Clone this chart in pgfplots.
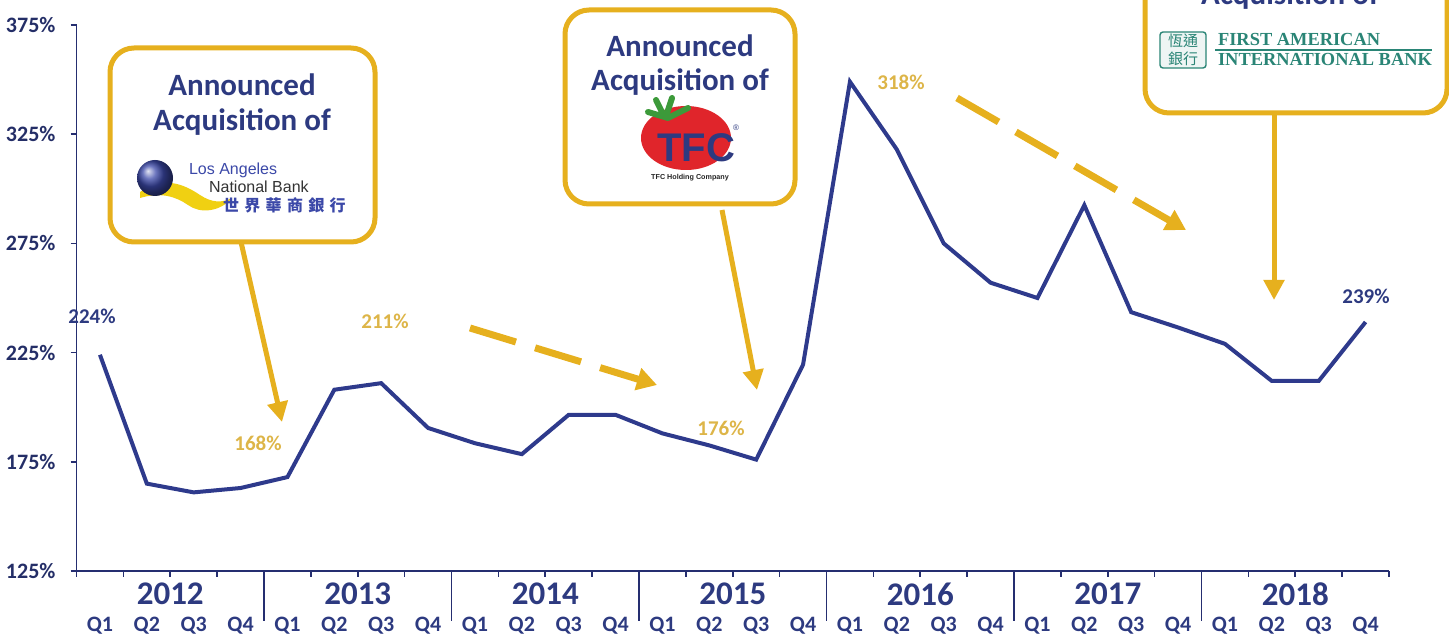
\documentclass[border=0pt]{standalone}
\usepackage{pgfplots}
\pgfplotsset{compat=1.18}
\usepackage{fontspec}
\setmainfont{Carlito}
\newfontfamily\cjk{Noto Sans CJK TC}
\newfontfamily\serifb{Liberation Serif}
\newfontfamily\arialf{Liberation Sans}
\usetikzlibrary{arrows.meta}
\definecolor{navyline}{HTML}{2E3A8C}
\definecolor{navytext}{HTML}{2D3A80}
\definecolor{gold}{HTML}{E6B01E}
\definecolor{goldtext}{HTML}{DDB548}
\definecolor{tomato}{HTML}{E0252B}
\definecolor{leaf}{HTML}{3C9A3A}
\definecolor{teal}{HTML}{2A8576}
\definecolor{lanblue}{HTML}{3B48A8}

\pgfplotstableread{
x ratio
0 224
1 165
2 161
3 163
4 168
5 208
6 211
7 190.5
8 183.5
9 178.5
10 196.5
11 196.5
12 188
13 182.5
14 176
15 219.5
16 349
17 318
18 275
19 257
20 250
21 292.5
22 243.5
23 236.5
24 229
25 212
26 212
27 239
}\ratiodata

\begin{document}
\begin{tikzpicture}
\useasboundingbox (0,0) rectangle (724.5pt,318pt);
\clip (0,0) rectangle (724.5pt,318pt);

\begin{axis}[
    at={(38.25pt,32.5pt)}, anchor=south west,
    scale only axis,
    width=656.25pt, height=273pt,
    xmin=-0.5, xmax=27.5,
    ymin=125, ymax=375,
    axis x line*=bottom, axis y line*=left,
    axis line style={navyline!80!black, line width=0.8pt, -},
    ytick={125,175,225,275,325,375},
    yticklabels={125\%,175\%,225\%,275\%,325\%,375\%},
    xtick={0,...,27},
    xticklabels={Q1,Q2,Q3,Q4,Q1,Q2,Q3,Q4,Q1,Q2,Q3,Q4,Q1,Q2,Q3,Q4,Q1,Q2,Q3,Q4,Q1,Q2,Q3,Q4,Q1,Q2,Q3,Q4},
    major x tick style={draw=none},
    minor xtick={-0.5,0.5,...,27.5},
    minor tick length=3pt,
    minor x tick style={navyline!80!black, line width=0.8pt},
    tick align=outside,
    major tick length=3pt,
    y tick style={navyline!80!black, line width=0.8pt},
    xticklabel style={font=\fontsize{11}{12}\selectfont\bfseries, text=navytext, anchor=center, inner sep=0pt, yshift=-24.5pt},
    yticklabel style={font=\fontsize{11}{12}\selectfont\bfseries, text=navytext!80!black, xshift=-4pt},
    clip=false,
]
\addplot[navyline, line width=2pt] table[x=x, y=ratio] {\ratiodata};

\pgfplotsinvokeforeach{3.5,7.5,11.5,15.5,19.5,23.5}{
  \draw[navyline!80!black, line width=0.8pt] (axis cs:#1,125) -- ++(0pt,-25pt);
}
\node[font=\fontsize{16.5}{17}\selectfont\bfseries, text=navytext] at ([yshift=-11.5pt]axis cs:1.5,125) {2012};
\node[font=\fontsize{16.5}{17}\selectfont\bfseries, text=navytext] at ([yshift=-11.5pt]axis cs:5.5,125) {2013};
\node[font=\fontsize{16.5}{17}\selectfont\bfseries, text=navytext] at ([yshift=-11.5pt]axis cs:9.5,125) {2014};
\node[font=\fontsize{16.5}{17}\selectfont\bfseries, text=navytext] at ([yshift=-11.5pt]axis cs:13.5,125) {2015};
\node[font=\fontsize{16.5}{17}\selectfont\bfseries, text=navytext] at ([yshift=-11.5pt]axis cs:17.5,125) {2016};
\node[font=\fontsize{16.5}{17}\selectfont\bfseries, text=navytext] at ([yshift=-11.5pt]axis cs:21.5,125) {2017};
\node[font=\fontsize{16.5}{17}\selectfont\bfseries, text=navytext] at ([yshift=-11.5pt]axis cs:25.5,125) {2018};
\end{axis}

% annotations, in pixel coordinates of the reference
\begin{scope}[shift={(0pt,318pt)}, x=0.5pt, y=-0.5pt]
  \tikzset{lbl/.style={font=\fontsize{10.5}{11}\selectfont\bfseries}}
  \node[lbl, text=navytext] at (92,316) {224\%};
  \node[lbl, text=goldtext] at (258,443) {168\%};
  \node[lbl, text=goldtext] at (385,321) {211\%};
  \node[lbl, text=goldtext] at (721,428) {176\%};
  \node[lbl, text=goldtext] at (901,82) {318\%};
  \node[lbl, text=navytext] at (1366,296) {239\%};

  % dashed trend arrows
  \draw[gold, line width=3.5pt, dash pattern=on 24pt off 10pt, -{Triangle[length=10pt,width=11pt]}]
     (470,328) -- (657,385);
  \draw[gold, line width=3.5pt, dash pattern=on 24pt off 10pt, -{Triangle[length=10pt,width=11pt]}]
     (957,98) -- (1186,230);

  % callout arrows
  \draw[gold, line width=2.5pt, -{Triangle[length=10pt,width=10pt]}] (241,242) -- (282,422);
  \draw[gold, line width=2.5pt, -{Triangle[length=10pt,width=10pt]}] (722,210) -- (757,390);
  \draw[gold, line width=2.5pt, -{Triangle[length=10pt,width=10pt]}] (1274,113) -- (1274,300);

  % callout 1
  \draw[gold, line width=2.5pt, rounded corners=12pt, fill=white] (110,48) rectangle (375,242);
  \node[font=\fontsize{15.5}{16}\selectfont\bfseries, text=navytext] at (242,85) {Announced};
  \node[font=\fontsize{15.5}{16}\selectfont\bfseries, text=navytext] at (242,122) {Acquisition of};
  \fill[gold!60!yellow] (140,192) .. controls (165,175) and (185,185) .. (200,195)
      .. controls (212,203) and (222,203) .. (232,198)
      .. controls (220,212) and (200,214) .. (188,205)
      .. controls (175,196) and (160,192) .. (140,198) -- cycle;
  \shade[ball color=lanblue] (155,178) circle (18);
  \node[font=\arialf\fontsize{8}{8}\selectfont, text=lanblue, anchor=west] at (182,170) {Los Angeles};
  \node[font=\arialf\fontsize{8}{8}\selectfont, text=black!80, anchor=west] at (202,187) {National Bank};
  \node[font=\cjk\fontsize{8}{8}\selectfont\bfseries, text=lanblue, anchor=west] at (216,205) {世\,\,界\,\,華\,\,商\,\,銀\,\,行};

  % callout 2
  \draw[gold, line width=2.5pt, rounded corners=12pt, fill=white] (565,10) rectangle (795,204);
  \node[font=\fontsize{15.5}{16}\selectfont\bfseries, text=navytext] at (680,46) {Announced};
  \node[font=\fontsize{15.5}{16}\selectfont\bfseries, text=navytext] at (680,82) {Acquisition of};
  \fill[tomato] (686,138) ellipse (45 and 32);
  \draw[leaf, line width=3pt, line cap=round] (648,112) -- (668,118) (656,100) -- (664,116) (672,98) -- (666,116) (688,108) -- (668,118);
  \node[font=\arialf\fontsize{20}{20}\selectfont\bfseries, text=navytext] at (696,148) {TFC};
  \node[font=\arialf\fontsize{4}{4}\selectfont, text=navytext] at (736,128) {\textregistered};
  \node[font=\arialf\fontsize{3.6}{4}\selectfont\bfseries, text=black!85] at (690,178) {TFC Holding Company};

  % callout 3
  \draw[gold, line width=2.5pt, rounded corners=12pt, fill=white] (1145,-60) rectangle (1447,113);
  \node[font=\fontsize{15.5}{16}\selectfont\bfseries, text=navytext] at (1290,-4) {Acquisition of};
  \draw[teal, line width=0.7pt, rounded corners=1.5pt, fill=teal!8] (1160,32) rectangle (1206,68);
  \node[font=\cjk\fontsize{7.5}{8}\selectfont, text=teal] at (1183,41) {恆通};
  \node[font=\cjk\fontsize{7.5}{8}\selectfont, text=teal] at (1183,59) {銀行};
  \node[font=\serifb\fontsize{9.2}{9}\selectfont\bfseries, text=teal, anchor=west] at (1211,40) {FIRST AMERICAN};
  \draw[teal, line width=0.6pt] (1215,50) -- (1432,50);
  \node[font=\serifb\fontsize{9.2}{9}\selectfont\bfseries, text=teal, anchor=west] at (1211,60) {INTERNATIONAL BANK};
\end{scope}
\end{tikzpicture}
\end{document}
